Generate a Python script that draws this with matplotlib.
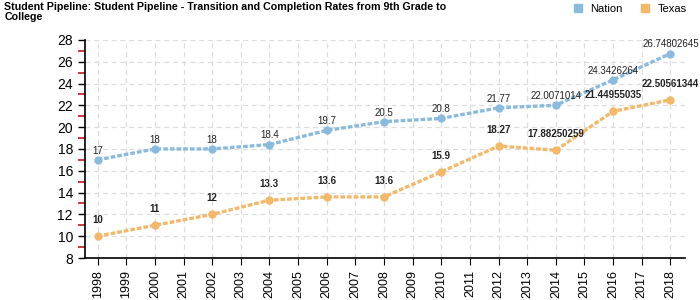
import matplotlib
matplotlib.use("Agg")
import matplotlib.pyplot as plt
from matplotlib.ticker import MultipleLocator
from matplotlib.lines import Line2D

years = [1998, 2000, 2002, 2004, 2006, 2008, 2010, 2012, 2014, 2016, 2018]
nation = [17, 18, 18, 18.4, 19.7, 20.5, 20.8, 21.77, 22.0071014, 24.3426264, 26.74802645]
texas = [10, 11, 12, 13.3, 13.6, 13.6, 15.9, 18.27, 17.88250259, 21.44955035, 22.50561344]
nation_labels = ["17", "18", "18", "18.4", "19.7", "20.5", "20.8", "21.77", "22.0071014", "24.3426264", "26.74802645"]
texas_labels = ["10", "11", "12", "13.3", "13.6", "13.6", "15.9", "18.27", "17.88250259", "21.44955035", "22.50561344"]
tick_years = list(range(1998, 2019))

plt.rcParams['font.family'] = ['Liberation Sans', 'DejaVu Sans']

fig = plt.figure(figsize=(7, 3), dpi=100)
ax = fig.add_axes([0.121, 0.14, 0.858, 0.727])

c_nat = '#8abbdf'
c_tex = '#f3b868'

ax.plot(years, nation, color=c_nat, lw=2.4, ls=(0, (1.4, 0.6)), marker='o', ms=6,
        markeredgewidth=0, zorder=3)
ax.plot(years, texas, color=c_tex, lw=2.4, ls=(0, (1.4, 0.6)), marker='o', ms=6,
        markeredgewidth=0, zorder=3)

for x, y, t in zip(years, nation, nation_labels):
    ax.annotate(t, (x, y), xytext=(0, 3), textcoords='offset points', ha='center', va='bottom',
                fontsize=7, color='#222222')
for x, y, t in zip(years, texas, texas_labels):
    ax.annotate(t, (x, y), xytext=(0, 8), textcoords='offset points', ha='center', va='bottom',
                fontsize=7, color='#222222', fontweight='bold')

ax.set_xlim(1997.55, 2018.52)
ax.set_ylim(8, 28)
ax.set_xticks(tick_years)
ax.set_xticklabels([str(y) for y in tick_years], rotation=90, fontsize=9)
ax.yaxis.set_major_locator(MultipleLocator(2))
ax.yaxis.set_minor_locator(MultipleLocator(1))
ax.tick_params(axis='y', which='major', labelsize=10, length=5, width=1, color='black')
ax.tick_params(axis='y', which='minor', length=5, width=1.1, color='#cc0000')
ax.tick_params(axis='x', length=5)

ax.grid(True, which='major', color='#dddddd', ls=(0, (4, 3)), lw=0.9)
ax.set_axisbelow(True)
for s in ['top', 'right']:
    ax.spines[s].set_visible(False)
ax.spines['left'].set_linewidth(1.2)
ax.spines['bottom'].set_linewidth(1.2)

fig.text(0.006, 0.995, "Student Pipeline: Student Pipeline - Transition and Completion Rates from 9th Grade to\nCollege",
         ha='left', va='top', fontsize=7.7, fontweight='bold', linespacing=1.0)

handles = [Line2D([], [], marker='s', ls='none', color=c_nat, ms=6),
           Line2D([], [], marker='s', ls='none', color=c_tex, ms=6)]
fig.legend(handles, ['Nation', 'Texas'], loc='upper right', bbox_to_anchor=(0.995, 1.02), ncol=2,
           frameon=False, fontsize=8, handletextpad=0.1, columnspacing=1.0)

fig.savefig('out.png', dpi=100)
